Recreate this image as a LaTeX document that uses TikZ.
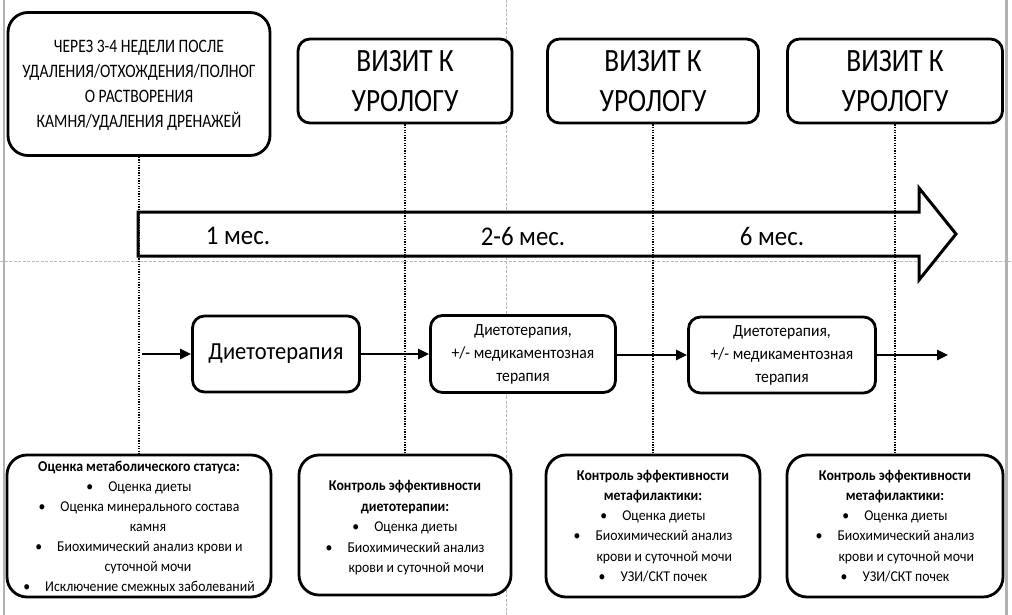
\documentclass[tikz,border=0pt]{standalone}
\usepackage{fontspec}
\setmainfont{Carlito}[FakeStretch=0.92]
\newfontfamily\narrowfont[FakeStretch=0.82]{Carlito}
\newfontfamily\visitfont[FakeStretch=0.84]{Carlito}
\usetikzlibrary{arrows.meta}
\begin{document}
\begin{tikzpicture}[x=1pt,y=-1pt,
  bigbox/.style={draw=black,line width=2.8pt,rounded corners=20pt,fill=white,align=center,inner sep=2pt},
  visitbox/.style={draw=black,line width=2.8pt,rounded corners=12pt,fill=white,align=center,inner sep=2pt,
    font=\visitfont\fontsize{32.5}{40}\selectfont},
  midbox/.style={draw=black,line width=2.8pt,rounded corners=12pt,fill=white,align=center,inner sep=2pt},
  dotline/.style={black,line width=1.3pt,dash pattern=on 1.3pt off 1.3pt},
  guide/.style={gray!55,line width=0.7pt,dash pattern=on 3pt off 1.5pt},
  flow/.style={line width=2.6pt,-{Triangle[length=11pt,width=10pt]}},
  lbl/.style={font=\fontsize{27}{30}\selectfont,inner sep=0pt},
  plain/.style={align=center,inner sep=0pt}
]
\useasboundingbox (0,0) rectangle (1012,615);
% faint guides and borders
\draw[guide] (506,0) -- (506,615);
\draw[guide] (0,261) -- (1012,261);
\draw[gray!60,line width=2.5pt] (4,0) -- (4,615);
\draw[gray!60,line width=3pt] (1006,0) -- (1006,615);

% top boxes
\node[bigbox,minimum width=262,minimum height=143] (start) at (139,84) {};
\node[plain,font=\narrowfont\fontsize{19}{25}\selectfont] (starttext) at (139,85)
  {ЧЕРЕЗ 3-4 НЕДЕЛИ ПОСЛЕ\\УДАЛЕНИЯ/ОТХОЖДЕНИЯ/ПОЛНОГ\\О РАСТВОРЕНИЯ\\КАМНЯ/УДАЛЕНИЯ ДРЕНАЖЕЙ};
\node[visitbox,minimum width=214,minimum height=84] (v1) at (405,81) {ВИЗИТ К\\УРОЛОГУ};
\node[visitbox,minimum width=211,minimum height=84] (v2) at (653,81) {ВИЗИТ К\\УРОЛОГУ};
\node[visitbox,minimum width=215,minimum height=84] (v3) at (895,81) {ВИЗИТ К\\УРОЛОГУ};

% bottom boxes
\node[bigbox,minimum width=264,minimum height=142,font=\fontsize{15}{20}\selectfont] (b1) at (139,526)
  {\textbf{Оценка метаболического статуса:}\\
   \textbullet\hspace{1em}Оценка диеты\\
   \textbullet\hspace{1em}Оценка минерального состава\\
   \hspace{1.2em}камня\\
   \textbullet\hspace{1em}Биохимический анализ крови и\\
   \hspace{1.2em}суточной мочи\\
   \textbullet\hspace{1em}Исключение смежных заболеваний};
\node[bigbox,minimum width=212,minimum height=140] (b2) at (405,525) {};
\node[plain,font=\fontsize{15}{20.5}\selectfont] (b2text) at (405,528)
  {\textbf{Контроль эффективности}\\
   \textbf{диетотерапии:}\\
   \textbullet\hspace{1em}Оценка диеты\\
   \textbullet\hspace{1em}Биохимический анализ\\
   \hspace{1.5em}крови и суточной мочи};
\node[bigbox,minimum width=214,minimum height=142,font=\fontsize{15}{20.2}\selectfont] (b3) at (653,526)
  {\textbf{Контроль эффективности}\\
   \textbf{метафилактики:}\\
   \textbullet\hspace{1em}Оценка диеты\\
   \textbullet\hspace{1em}Биохимический анализ\\
   \hspace{1.5em}крови и суточной мочи\\
   \textbullet\hspace{1em}УЗИ/СКТ почек};
\node[bigbox,minimum width=216,minimum height=142,font=\fontsize{15}{20.2}\selectfont] (b4) at (895,526)
  {\textbf{Контроль эффективности}\\
   \textbf{метафилактики:}\\
   \textbullet\hspace{1em}Оценка диеты\\
   \textbullet\hspace{1em}Биохимический анализ\\
   \hspace{1.5em}крови и суточной мочи\\
   \textbullet\hspace{1em}УЗИ/СКТ почек};

% big timeline arrow
\draw[line width=3pt,line join=miter,fill=white] (138,212) -- (919,212) -- (919,188) -- (956,234)
  -- (919,280) -- (919,256) -- (138,256) -- cycle;
\node[lbl] (m1) at (238,236) {1 мес.};
\node[lbl] (m2) at (523,236) {2-6 мес.};
\node[lbl] (m3) at (772,236) {6 мес.};

% dotted verticals
\draw[dotline] (start.south) -- (start.south |- b1.north);
\draw[dotline] (v1.south) -- (v1.south |- b2.north);
\draw[dotline] (v2.south) -- (v2.south |- b3.north);
\draw[dotline] (v3.south) -- (v3.south |- b4.north);

% middle row
\node[midbox,minimum width=167,minimum height=76,font=\fontsize{24.5}{28}\selectfont] (d1) at (276,354) {Диетотерапия};
\node[midbox,minimum width=185,minimum height=77,font=\fontsize{17}{23}\selectfont] (d2) at (523,354)
  {Диетотерапия,\\+/- медикаментозная\\терапия};
\node[midbox,minimum width=187,minimum height=76,font=\fontsize{17}{23}\selectfont] (d3) at (782,355)
  {Диетотерапия,\\+/- медикаментозная\\терапия};
\coordinate (fs) at (142,354);
\coordinate (fe) at (948,355);
\draw[flow] (fs) -- (d1.west);
\draw[flow] (d1.east) -- (d2.west |- d1.east);
\draw[flow] (d2.east |- d3.west) -- (d3.west);
\draw[flow] (d3.east) -- (fe);
\end{tikzpicture}
\end{document}
